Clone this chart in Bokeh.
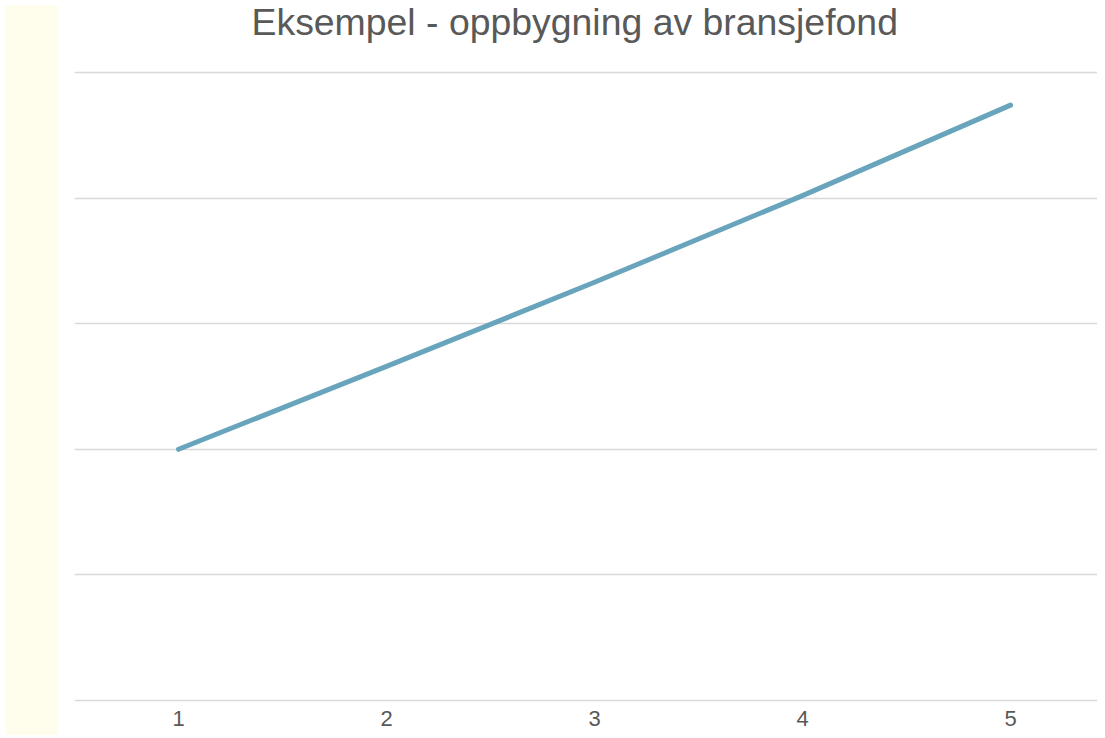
from bokeh.plotting import figure
from bokeh.models import Range1d, FixedTicker, Div, ColumnDataSource, Title
from bokeh.layouts import row
from bokeh.embed import file_html
from bokeh.resources import INLINE

# data
periods = [1, 2, 3, 4, 5]
fund_values = [200, 266, 333, 402, 474]
grid_levels = [0, 100, 200, 300, 400, 500]
x_tick_labels = {1: "1", 2: "2", 3: "3", 4: "4", 5: "5"}
title_text = "Eksempel - oppbygning av bransjefond"

FONT = "Liberation Sans"
TXT = "#595959"
H = 730

source = ColumnDataSource(data=dict(x=periods, y=fund_values))

p = figure(width=1034, height=H, output_backend="svg", toolbar_location=None,
           x_range=Range1d(0.5, 5.418), y_range=Range1d(-1.6, 501.6),
           min_border_left=11, min_border_right=0, min_border_top=40,
           min_border_bottom=28)

# spacer between title and plot area (closest to frame)
spacer = Title(text=" ", text_font_size="1px", standoff=23)
p.add_layout(spacer, "above")
t = Title(text=title_text, text_font=FONT, text_font_size="37.4px",
          text_font_style="normal", text_color=TXT, align="left",
          vertical_align="top", standoff=0, offset=177)
p.add_layout(t, "above")

p.line("x", "y", source=source, line_color="#68A5BC", line_width=5,
       line_cap="round", line_join="round")

p.outline_line_color = None
p.background_fill_color = "white"
p.border_fill_color = "white"

p.yaxis.visible = False
p.ygrid.ticker = FixedTicker(ticks=grid_levels)
p.ygrid.grid_line_color = "#D9D9D9"
p.ygrid.grid_line_width = 1.5
p.xgrid.visible = False

p.xaxis.ticker = FixedTicker(ticks=periods)
p.xaxis.major_label_overrides = x_tick_labels
p.xaxis.axis_line_color = None
p.xaxis.major_tick_line_color = None
p.xaxis.minor_tick_line_color = None
p.xaxis.major_tick_out = 0
p.xaxis.major_tick_in = 0
p.xaxis.major_label_standoff = 8
p.xaxis.major_label_text_font = FONT
p.xaxis.major_label_text_font_size = "22px"
p.xaxis.major_label_text_color = TXT

strip = Div(text="", width=53, height=H,
            styles={"background-color": "#FFFDEB"})

layout = row(strip, p)

open("out.html", "w").write(file_html(layout, INLINE))
